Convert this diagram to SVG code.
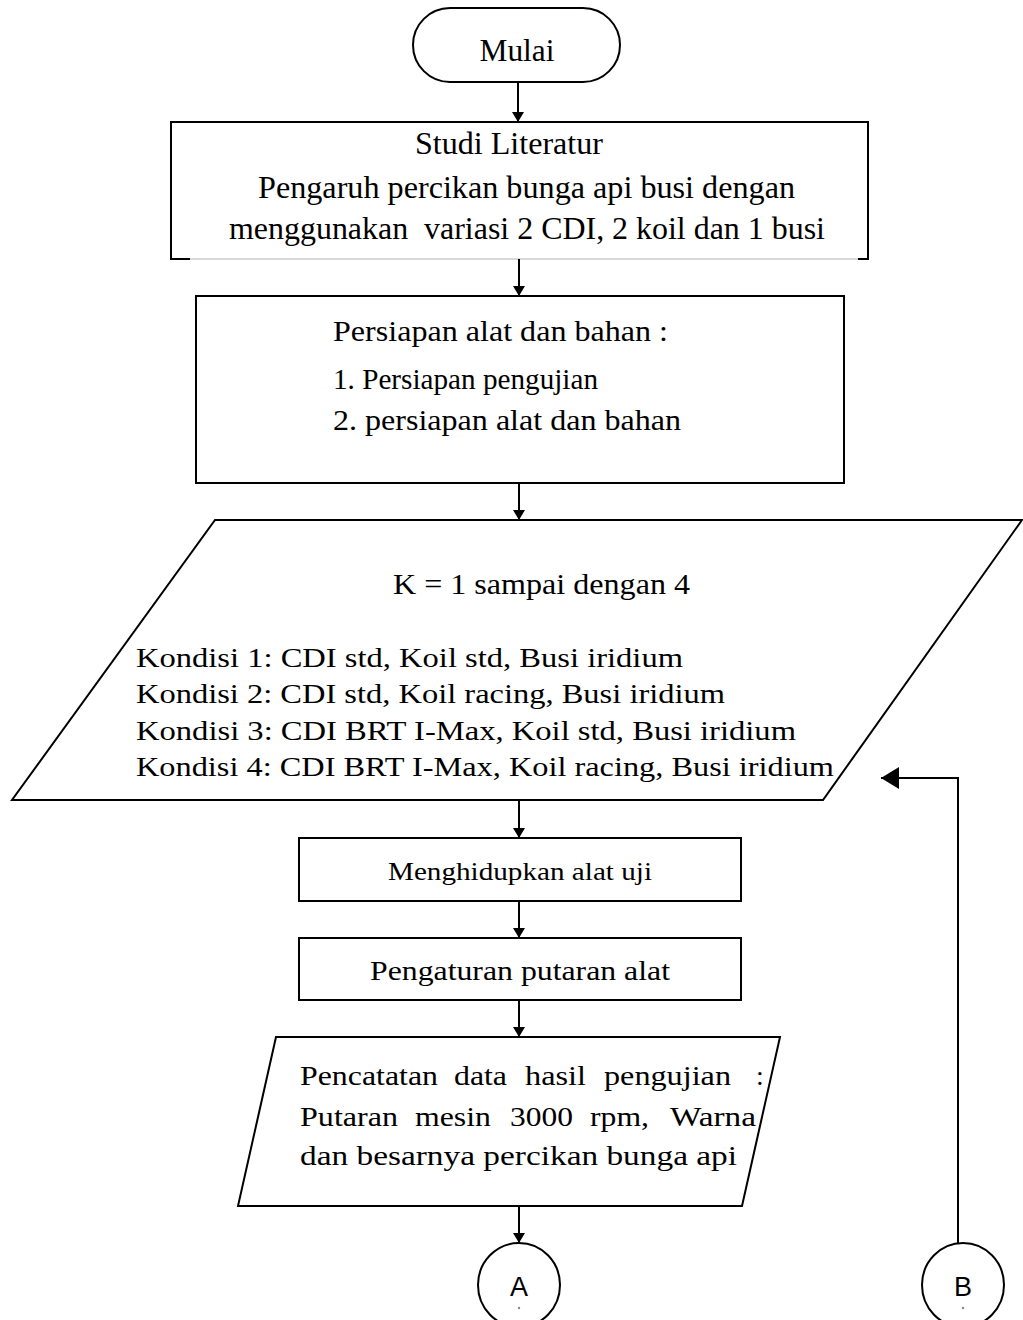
<svg xmlns="http://www.w3.org/2000/svg" width="1023" height="1320" viewBox="0 0 1023 1320">
<style>
.s{fill:#fff;stroke:#000;stroke-width:2}
.t{font-family:'Liberation Serif','Times New Roman',Times,serif;fill:#000;font-size:28px}
.c{font-family:'Liberation Sans',Arial,sans-serif;fill:#000;font-size:27px}
.l{fill:none;stroke:#000;stroke-width:2}
</style>
<defs>
<marker id="ah" markerUnits="userSpaceOnUse" markerWidth="12" markerHeight="12" refX="10" refY="6" orient="auto"><path d="M0,0 L10,6 L0,12 z" fill="#000"/></marker>
<marker id="ahb" markerUnits="userSpaceOnUse" markerWidth="20" markerHeight="22" refX="18" refY="11" orient="auto"><path d="M0,0 L18,11 L0,22 z" fill="#000"/></marker>
</defs>
<rect width="1023" height="1320" fill="#fff"/>
<g id="mulai">
<rect class="s" x="413" y="8" width="207" height="74" rx="37" ry="37"/>
<text class="t" x="517" y="61" text-anchor="middle" textLength="75" lengthAdjust="spacingAndGlyphs" style="font-size:32px">Mulai</text>
</g>
<g id="studi">
<rect x="171" y="122" width="697" height="137" fill="#fff"/>
<path class="l" d="M171,259 V122 H868 V259"/>
<path d="M190,259 H858" stroke="#d9d9d9" stroke-width="2"/>
<path d="M170,259 H190 M858,259 H869" stroke="#000" stroke-width="2"/>
<text class="t" x="415" y="154" textLength="188" lengthAdjust="spacingAndGlyphs" style="font-size:31px">Studi Literatur</text>
<text class="t" x="258" y="198" textLength="537" lengthAdjust="spacingAndGlyphs" style="font-size:31px">Pengaruh percikan bunga api busi dengan</text>
<text class="t" x="229" y="239" textLength="596" lengthAdjust="spacingAndGlyphs" style="font-size:31px" xml:space="preserve">menggunakan  variasi 2 CDI, 2 koil dan 1 busi</text>
</g>
<g id="persiapan">
<rect class="s" x="196" y="296" width="648" height="187"/>
<text class="t" x="333" y="341" textLength="335" lengthAdjust="spacingAndGlyphs" style="font-size:29px">Persiapan alat dan bahan :</text>
<text class="t" x="333" y="389" textLength="265" lengthAdjust="spacingAndGlyphs" style="font-size:29px">1. Persiapan pengujian</text>
<text class="t" x="333" y="430" textLength="348" lengthAdjust="spacingAndGlyphs" style="font-size:29px">2. persiapan alat dan bahan</text>
</g>
<g id="input-k">
<path class="s" d="M215,520 H1022 L823,800 H12 Z"/>
<text class="t" x="393" y="594" textLength="297" lengthAdjust="spacingAndGlyphs" style="font-size:29px">K = 1 sampai dengan 4</text>
<text class="t" x="136" y="667" textLength="547" lengthAdjust="spacingAndGlyphs">Kondisi 1: CDI std, Koil std, Busi iridium</text>
<text class="t" x="136" y="703" textLength="589" lengthAdjust="spacingAndGlyphs">Kondisi 2: CDI std, Koil racing, Busi iridium</text>
<text class="t" x="136" y="740" textLength="660" lengthAdjust="spacingAndGlyphs">Kondisi 3: CDI BRT I-Max, Koil std, Busi iridium</text>
<text class="t" x="136" y="776" textLength="698" lengthAdjust="spacingAndGlyphs">Kondisi 4: CDI BRT I-Max, Koil racing, Busi iridium</text>
</g>
<g id="menghidupkan">
<rect class="s" x="299" y="838" width="442" height="63"/>
<text class="t" x="388" y="880" textLength="264" lengthAdjust="spacingAndGlyphs" style="font-size:26px">Menghidupkan alat uji</text>
</g>
<g id="pengaturan">
<rect class="s" x="299" y="938" width="442" height="62"/>
<text class="t" x="370" y="980" textLength="300" lengthAdjust="spacingAndGlyphs">Pengaturan putaran alat</text>
</g>
<g id="pencatatan">
<path class="s" d="M276,1037 H780 L742,1206 H238 Z"/>
<text class="t" y="1085"><tspan x="300" textLength="138" lengthAdjust="spacingAndGlyphs">Pencatatan</tspan><tspan x="454" textLength="53" lengthAdjust="spacingAndGlyphs">data</tspan><tspan x="525" textLength="61" lengthAdjust="spacingAndGlyphs">hasil</tspan><tspan x="604" textLength="127" lengthAdjust="spacingAndGlyphs">pengujian</tspan><tspan x="756">:</tspan></text>
<text class="t" y="1126"><tspan x="300" textLength="98" lengthAdjust="spacingAndGlyphs">Putaran</tspan><tspan x="415" textLength="76" lengthAdjust="spacingAndGlyphs">mesin</tspan><tspan x="510" textLength="63" lengthAdjust="spacingAndGlyphs">3000</tspan><tspan x="590" textLength="59" lengthAdjust="spacingAndGlyphs">rpm,</tspan><tspan x="670" textLength="86" lengthAdjust="spacingAndGlyphs">Warna</tspan></text>
<text class="t" x="300" y="1165" textLength="437" lengthAdjust="spacingAndGlyphs">dan besarnya percikan bunga api</text>
</g>
<g id="conn-a">
<ellipse class="s" cx="519" cy="1285" rx="41" ry="42"/>
<text class="c" x="519" y="1296" text-anchor="middle">A</text>
<circle cx="519" cy="1308" r="1.2" fill="#888"/>
</g>
<g id="conn-b">
<ellipse class="s" cx="963" cy="1285" rx="41" ry="42"/>
<text class="c" x="963" y="1296" text-anchor="middle">B</text>
<circle cx="963" cy="1308" r="1.2" fill="#888"/>
</g>
<g id="connectors">
<path class="l" d="M518,82 V122" marker-end="url(#ah)"/>
<path class="l" d="M519,259 V296" marker-end="url(#ah)"/>
<path class="l" d="M519,483 V520" marker-end="url(#ah)"/>
<path class="l" d="M519,800 V838" marker-end="url(#ah)"/>
<path class="l" d="M519,901 V938" marker-end="url(#ah)"/>
<path class="l" d="M519,1000 V1037" marker-end="url(#ah)"/>
<path class="l" d="M519,1206 V1243" marker-end="url(#ah)"/>
<path class="l" d="M958,1243 V778 H881" stroke-width="3" marker-end="url(#ahb)"/>
</g>
</svg>
